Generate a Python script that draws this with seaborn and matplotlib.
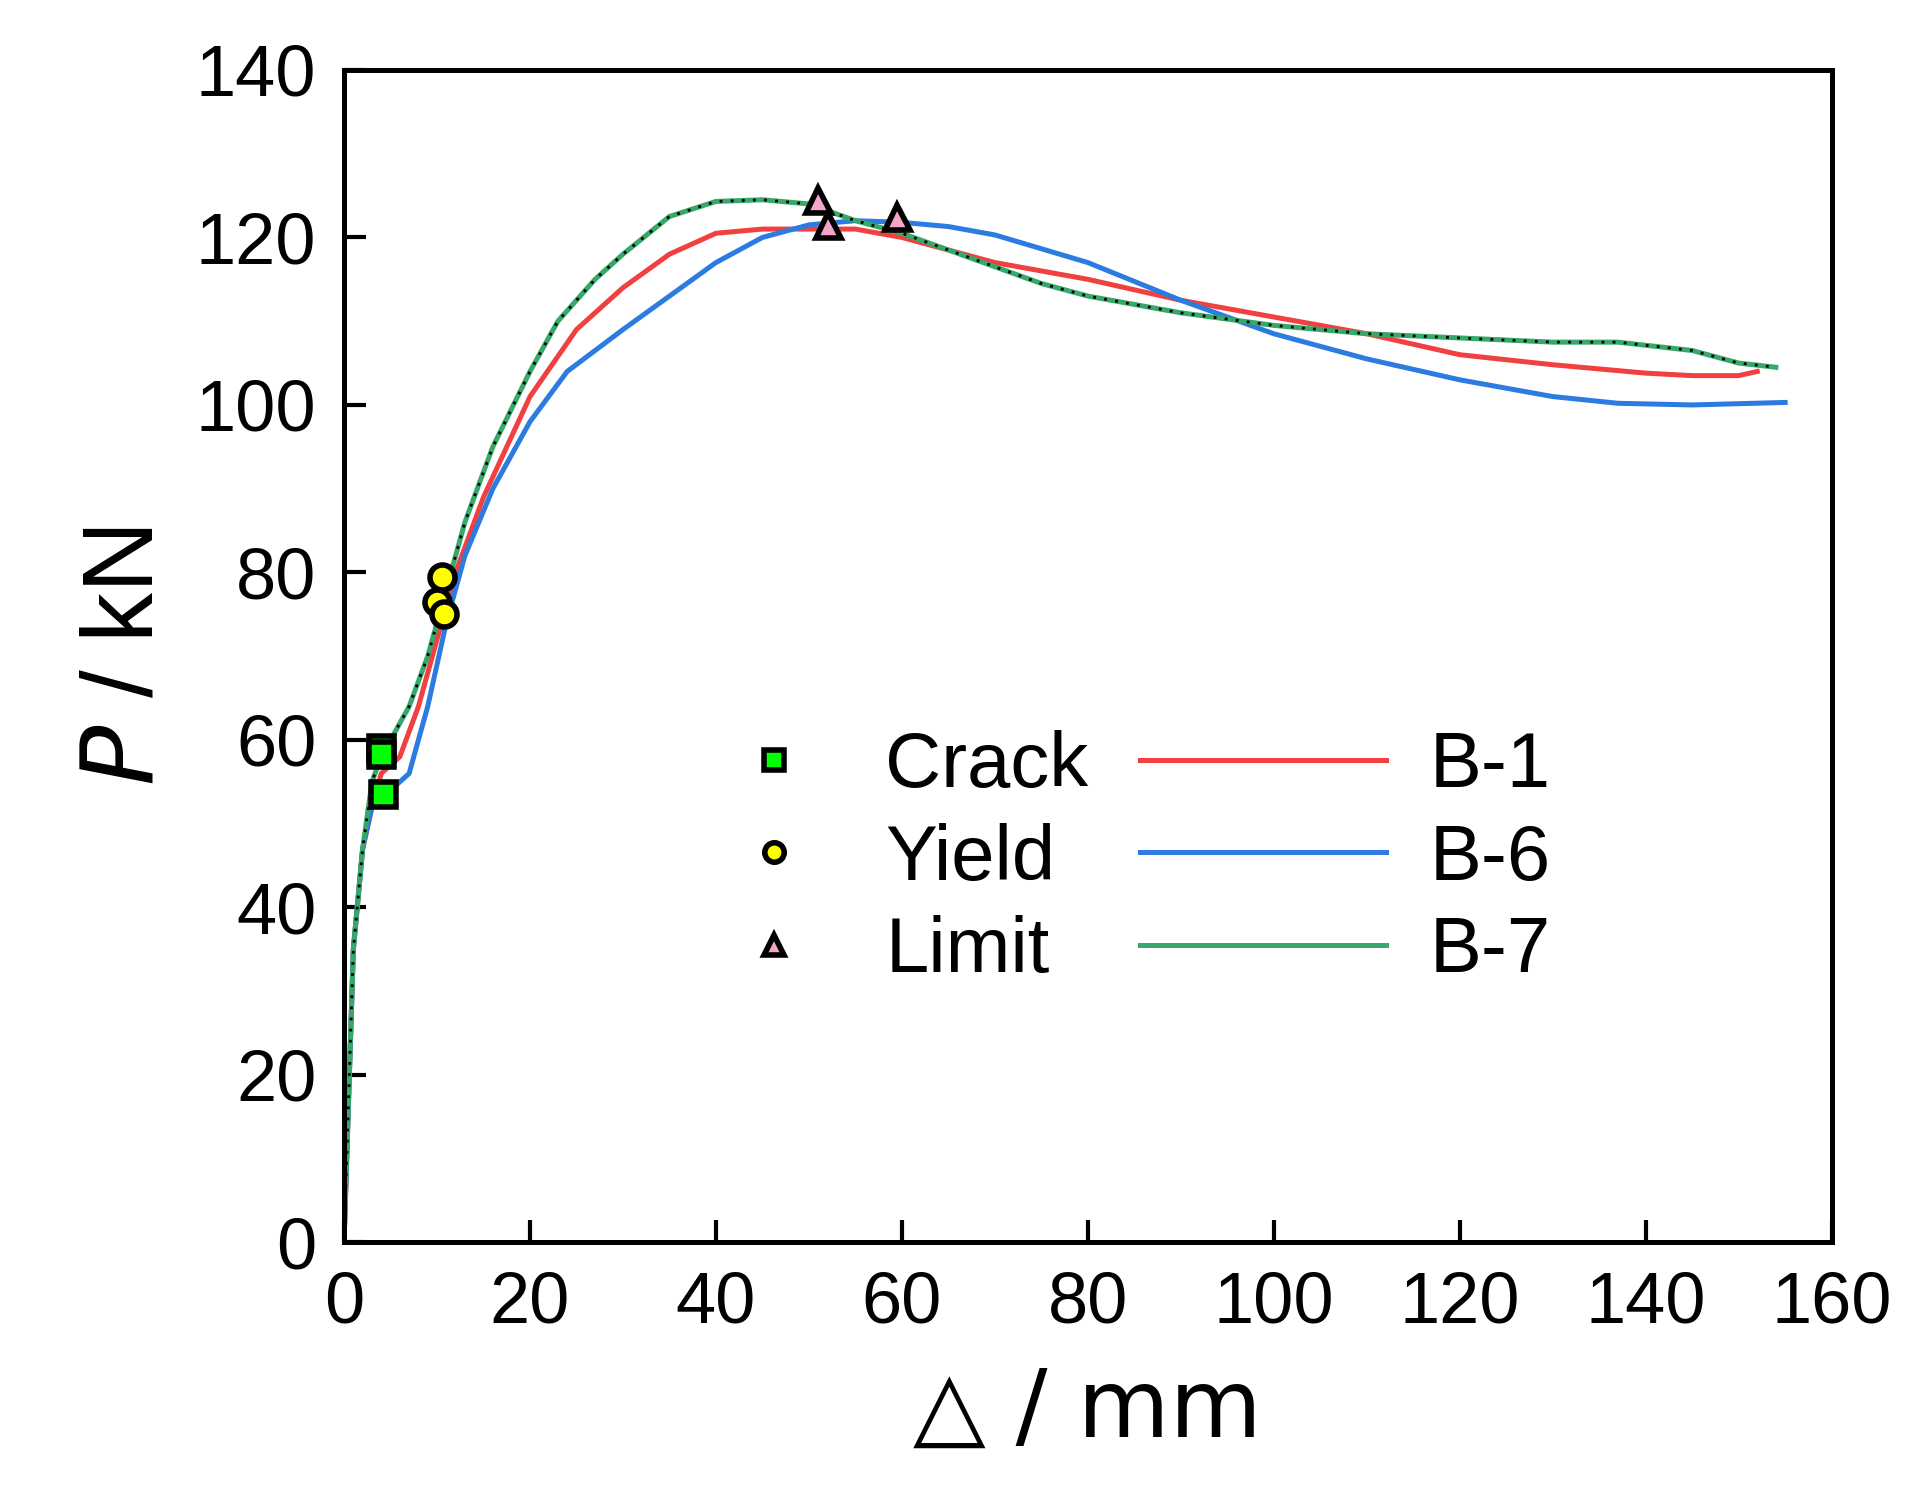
import matplotlib
matplotlib.use("Agg")
import matplotlib.pyplot as plt
import seaborn as sns
import pandas as pd
from matplotlib.lines import Line2D

b1_x = [0,1,2,3,4,5,6,8,10,12,15,20,25,30,35,40,45,50,55,60,70,80,90,100,110,120,130,140,145,150,152]
b1_y = [0,35,47,52,56,57,58,64,72,80,89,101,109,114,118,120.5,121,121,121,120,117,115,112.5,110.5,108.5,106,104.8,103.8,103.5,103.5,104]
b6_x = [0,1,2,3,5,7,9,11,13,16,20,24,30,35,40,45,50,55,60,65,70,80,90,100,110,120,130,137,145,155]
b6_y = [0,35,47,52,54,56,64,74,82,90,98,104,109,113,117,120,121.5,122,121.8,121.3,120.3,117,112.5,108.5,105.5,103,101,100.2,100,100.3]
b7_x = [0,1,2,3,4,5,7,9,11,13,16,20,23,27,30,35,40,45,50,55,60,65,70,75,80,90,100,110,120,130,137,145,150,154]
b7_y = [0,35,47,55,58,60,64,70,78,86,95,104,110,115,118,122.5,124.3,124.5,124,122,120.5,118.5,116.5,114.5,113,111,109.5,108.5,108,107.5,107.5,106.5,105,104.5]

crack_x = [4.0, 4.0, 4.2]
crack_y = [59.0, 58.3, 53.5]
yield_x = [10.5, 10.0, 10.8]
yield_y = [79.5, 76.5, 75.0]
limit_x = [51.0, 52.0, 59.5]
limit_y = [124.5, 121.5, 122.5]

xticks = [0,20,40,60,80,100,120,140,160]
yticks = [0,20,40,60,80,100,120,140]

plt.rcParams["font.family"] = ["Liberation Sans", "DejaVu Sans"]
fig = plt.figure(figsize=(9.61, 7.44), dpi=200)
ax = fig.add_axes([0.179, 0.165, 0.774, 0.788])

df = pd.concat([
    pd.DataFrame({"x": b1_x, "y": b1_y, "s": "B-1"}),
    pd.DataFrame({"x": b6_x, "y": b6_y, "s": "B-6"}),
    pd.DataFrame({"x": b7_x, "y": b7_y, "s": "B-7"}),
])
pal = {"B-1": "#f04040", "B-6": "#2b7be0", "B-7": "#35a86a"}
sns.lineplot(data=df, x="x", y="y", hue="s", palette=pal, sort=False, lw=1.8, ax=ax, legend=False, estimator=None)
ax.plot(b7_x, b7_y, ls=(0, (1, 3)), color="black", lw=1.0)

ms = 9
ax.plot(crack_x, crack_y, "s", ms=ms, mfc="#00ff00", mec="black", mew=2, ls="none", zorder=5)
ax.plot(yield_x, yield_y, "o", ms=ms, mfc="#ffff00", mec="black", mew=2, ls="none", zorder=5)
ax.plot(limit_x, limit_y, "^", ms=ms, mfc="#f4a6c8", mec="black", mew=2, ls="none", zorder=5)

ax.set_xlim(0, 160)
ax.set_ylim(0, 140)
ax.set_xticks(xticks)
ax.set_yticks(yticks)
ax.tick_params(direction="in", length=8, width=1.5, labelsize=26, pad=10)
for s in ax.spines.values():
    s.set_linewidth(1.8)
ax.set_xlabel("△ / mm", fontsize=34, labelpad=10, fontfamily="DejaVu Sans")
ax.set_ylabel("$\\it{P}$ / kN", fontsize=36, labelpad=8)

mh = [Line2D([], [], marker="s", ms=7, mfc="#00ff00", mec="black", mew=2, ls="none"),
      Line2D([], [], marker="o", ms=7, mfc="#ffff00", mec="black", mew=2, ls="none"),
      Line2D([], [], marker="^", ms=7, mfc="#f4a6c8", mec="black", mew=2, ls="none")]
l1 = ax.legend(mh, ["Crack", "Yield", "Limit"], frameon=False, fontsize=28,
               loc="center left", bbox_to_anchor=(0.263, 0.327), borderpad=0, borderaxespad=0,
               handlelength=1.0, handletextpad=0.93, labelspacing=0.25)
ax.add_artist(l1)
lh = [Line2D([], [], color=pal["B-1"], lw=1.8), Line2D([], [], color=pal["B-6"], lw=1.8),
      Line2D([], [], color=pal["B-7"], lw=1.8)]
ax.legend(lh, ["B-1", "B-6", "B-7"], frameon=False, fontsize=28, loc="center left",
          bbox_to_anchor=(0.535, 0.327), borderpad=0, borderaxespad=0,
          handlelength=3.17, handletextpad=0.55, labelspacing=0.25)

fig.savefig("out.png", dpi=200)
